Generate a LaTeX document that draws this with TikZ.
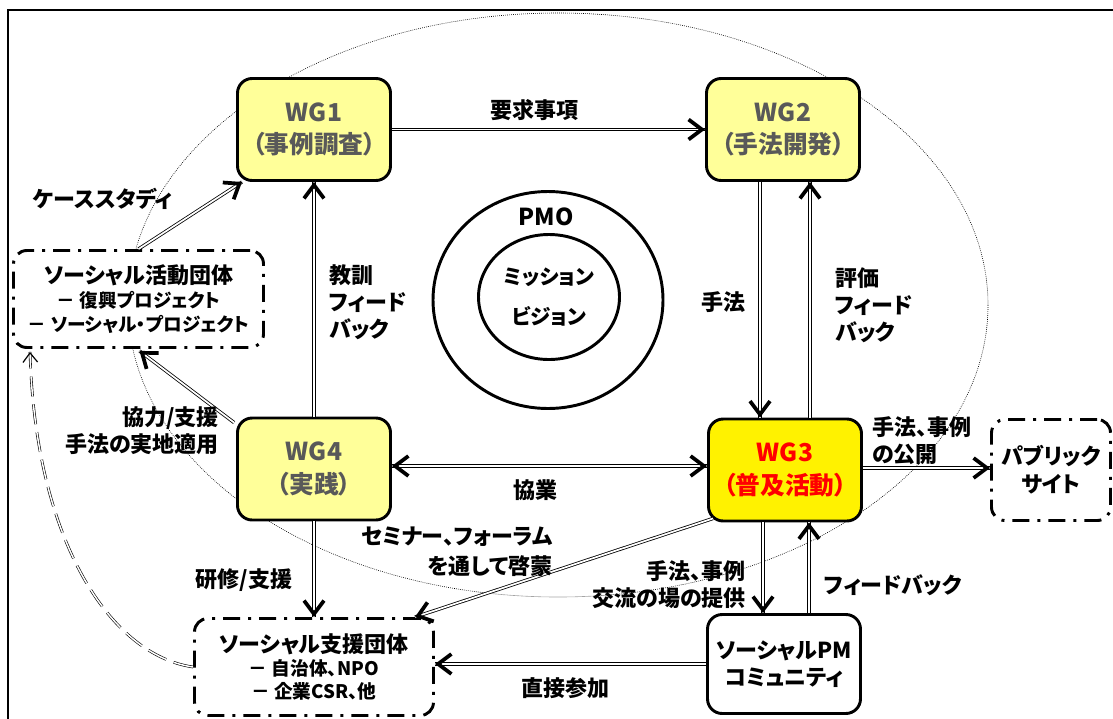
\documentclass[tikz,border=0pt]{standalone}
\usepackage{fontspec}
\setmainfont{Noto Sans CJK JP}[RawFeature=+palt]
\usetikzlibrary{arrows.meta,calc,shapes.geometric}
\definecolor{paleY}{HTML}{FFFF99}
\definecolor{boxgrey}{HTML}{595959}
\tikzset{
  wgbox/.style={draw, line width=2.2pt, rounded corners=11pt, fill=paleY, text=boxgrey,
    font=\bfseries\fontsize{18.5}{24.5}\selectfont, align=center,
    minimum width=114.75pt, minimum height=76.5pt, inner sep=0pt},
  pmbox/.style={draw, line width=2.2pt, rounded corners=11pt, fill=white,
    font=\bfseries\fontsize{16.5}{20}\selectfont, align=center,
    minimum width=114.75pt, minimum height=74.25pt, inner sep=0pt},
  ddbox/.style={draw, line width=2.2pt, rounded corners=10pt, fill=white,
    dash pattern=on 12.75pt off 6pt on 2.25pt off 6pt, align=center, inner sep=0pt},
  ring/.style={draw, ellipse, line width=2.2pt, inner sep=0pt},
  lbl/.style={font=\bfseries\fontsize{16.5}{20.25}\selectfont, inner sep=0pt},
  dline/.style={line width=0.6pt, double=white, double distance=1.3pt},
  tiponly/.style={line width=2.8pt, dash pattern=on 0pt off 10000pt, line cap=butt},
  tipend/.style={-{Straight Barb[length=10pt,width=15pt,line width=2.8pt]}},
  tipboth/.style={{Straight Barb[length=10pt,width=15pt,line width=2.8pt]}-{Straight Barb[length=10pt,width=15pt,line width=2.8pt]}},
}
\newcommand\darrow[3][tipend]{%
  \draw[dline] #2 -- #3;
  \draw[tiponly,#1] #2 -- #3;}
\begin{document}
\begin{tikzpicture}[x=0.75pt,y=-0.75pt]
\useasboundingbox (0,0) rectangle (1113,718);
\clip (0,0) rectangle (1113,718);
% outer frame
\draw[line width=1.9pt] (8,10) rectangle (1140,745);
% dotted ellipse
\draw[line width=0.45pt, dash pattern=on 0.6pt off 0.9pt] (558,305) ellipse [x radius=430, y radius=292];

% PMO
\node[ring, minimum width=172.5pt, minimum height=162.75pt] (pmo) at (548,300) {};
\node[ring, minimum width=105.75pt, minimum height=93.75pt,
      font=\bfseries\fontsize{15.5}{30}\selectfont, align=center] (mv) at (549,297) {ミッション\\ビジョン};
\node[font=\bfseries\fontsize{17.5}{20}\selectfont, inner sep=0pt] (pmot) at (546,217) {PMO};

% boxes
\node[wgbox] (wg1) at (314,129.5) {WG1\\（事例調査）};
\node[wgbox] (wg2) at (783,129.5) {WG2\\（手法開発）};
\node[wgbox, fill=yellow, text=red] (wg3) at (785,470) {WG3\\（普及活動）};
\node[wgbox] (wg4) at (314,469) {WG4\\（実践）};
\node[pmbox] (pm) at (784,664) {ソーシャルPM\\コミュニティ};
\node[ddbox, minimum width=187.5pt, minimum height=72.75pt,
      font=\bfseries\fontsize{14}{18}\selectfont] (act) at (138.5,299)
  {{\fontsize{16.5}{18}\selectfont ソーシャル活動団体}\\－ 復興プロジェクト\\－ ソーシャル・プロジェクト};
\node[ddbox, minimum width=179.25pt, minimum height=72.75pt,
      font=\bfseries\fontsize{14}{17}\selectfont] (sup) at (314,667)
  {{\fontsize{16.5}{17}\selectfont ソーシャル支援団体}\\－ 自治体、NPO\\－ 企業CSR、他};
\node[ddbox, minimum width=89.25pt, minimum height=75.75pt,
      font=\bfseries\fontsize{16.5}{21}\selectfont] (pub) at (1051,470) {パブリック\\サイト};

% connectors
\darrow{(wg1.east)}{(wg2.west)}
\darrow{($(wg2.south)+(-23,0)$)}{($(wg3.north)+(-25,0)$)}
\darrow{($(wg3.north)+(25,0)$)}{($(wg2.south)+(27,0)$)}
\darrow{(wg4.north)}{(wg1.south)}
\darrow[tipboth]{($(wg4.east)+(0,-3)$)}{($(wg3.west)+(0,-4)$)}
\darrow{(act.north)}{($(wg1.south west)+(6,0)$)}
\darrow{($(wg4.north west)+(-2,6)$)}{($(act.south)+(1,2)$)}
\darrow{(wg4.south)}{(sup.north)}
\darrow{($(wg3.south west)+(6,-4)$)}{($(sup.north east)+(-20,0)$)}
\darrow{($(wg3.south)+(-22,0)$)}{($(pm.north)+(-21,0)$)}
\darrow{($(pm.north)+(25,0)$)}{($(wg3.south)+(24,0)$)}
\darrow{(pm.west)}{(pm.west -| sup.east)}
\darrow{($(wg3.east)+(0,-2)$)}{($(pub.west)+(0,-2)$)}
% dashed return curve
\coordinate (dashend) at ($(act.south west)+(18,3)$);
\draw[line width=0.45pt, double=white, double distance=1.1pt, dash pattern=on 15pt off 6pt]
  (sup.west) .. controls (110,655) and (35,540) .. (dashend);
\draw[line width=0.9pt, dash pattern=on 0pt off 10000pt, line cap=butt, -{Straight Barb[length=7pt,width=11pt]}]
  (sup.west) .. controls (110,655) and (35,540) .. (dashend);

% labels
\node[lbl] (l1) at (534,110) {要求事項};
\node[lbl] (l2) at (723,302) {手法};
\node[lbl, align=left, anchor=west] (l3) at (835,305) {評価\\フィード\\バック};
\node[lbl, align=left, anchor=west] (l4) at (329,302) {教訓\\フィード\\バック};
\node[lbl] (l5) at (535,490) {協業};
\node[lbl] (l6) at (103,199) {ケーススタディ};
\node[lbl, align=right, anchor=east] (l7) at (219,431) {協力/支援\\手法の実地適用};
\node[lbl] (l8) at (244,580) {研修/支援};
\node[lbl, align=right, anchor=east, font=\bfseries\fontsize{16.5}{22.5}\selectfont] (l9) at (553,552) {セミナー、フォーラム\\を通して啓蒙};
\node[lbl, align=right, anchor=east] (l10) at (746,585) {手法、事例\\交流の場の提供};
\node[lbl] (l11) at (893,585) {フィードバック};
\node[lbl] (l12) at (565,688) {直接参加};
\node[lbl, align=left, anchor=west] (l13) at (872,441) {手法、事例\\の公開};
\end{tikzpicture}
\end{document}
